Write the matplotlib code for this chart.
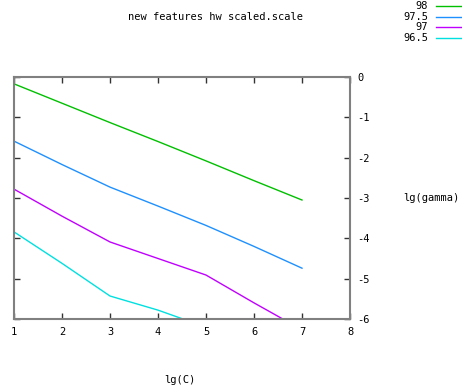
import matplotlib
matplotlib.use('Agg')
import matplotlib.pyplot as plt

# contour levels
levels = ['98', '97.5', '97', '96.5']
colors = ['#00c000', '#1e90ff', '#c000ff', '#00e0e0']

x_98 = [1, 2, 3, 4, 5, 6, 7]
y_98 = [-0.17, -0.65, -1.13, -1.6, -2.08, -2.57, -3.05]

x_975 = [1, 2, 3, 4, 5, 6, 7]
y_975 = [-1.59, -2.17, -2.73, -3.2, -3.68, -4.2, -4.74]

x_97 = [1, 2, 3, 4, 5, 6, 6.6]
y_97 = [-2.78, -3.45, -4.09, -4.5, -4.91, -5.6, -6.0]

x_965 = [1, 2, 3, 4, 4.52]
y_965 = [-3.84, -4.62, -5.43, -5.78, -6.0]

xs = [x_98, x_975, x_97, x_965]
ys = [y_98, y_975, y_97, y_965]

xticks = [1, 2, 3, 4, 5, 6, 7, 8]
yticks = [0, -1, -2, -3, -4, -5, -6]

plt.rcParams['font.family'] = 'DejaVu Sans Mono'
plt.rcParams['font.size'] = 7.5
plt.rcParams['axes.unicode_minus'] = False

fig = plt.figure(figsize=(4.62, 3.91), dpi=100)
ax = fig.add_axes([14 / 462, 1 - 319 / 391, 336 / 462, 242 / 391])

for x, y, c in zip(xs, ys, colors):
    ax.plot(x, y, color=c, linewidth=1)

ax.set_xlim(1, 8)
ax.set_ylim(-6, 0)
ax.set_xticks(xticks)
ax.set_yticks(yticks)
ax.tick_params(direction='in', length=4, width=1, color='#333333',
               top=True, bottom=True, left=True, right=True,
               labelleft=False, labelright=True, labelbottom=True)
ax.tick_params(axis='x', pad=6)
ax.tick_params(axis='y', pad=5)
for s in ax.spines.values():
    s.set_color('#808080')
    s.set_linewidth(1.5)

fig.text(215 / 462, 1 - 17 / 391, 'new features hw scaled.scale', ha='center', va='center')
fig.text(403 / 462, 1 - 198 / 391, 'lg(gamma)', ha='left', va='center')
fig.text(180 / 462, 1 - 380 / 391, 'lg(C)', ha='center', va='center')

# legend drawn like gnuplot's key
for i, (lab, c) in enumerate(zip(levels, colors)):
    yy = 1 - (6 + i * 10.7) / 391
    fig.text(428 / 462, yy, lab, ha='right', va='center')
    fig.add_artist(plt.Line2D([436 / 462, 461 / 462], [yy, yy], color=c, linewidth=1))

fig.savefig('out.png', dpi=100)
